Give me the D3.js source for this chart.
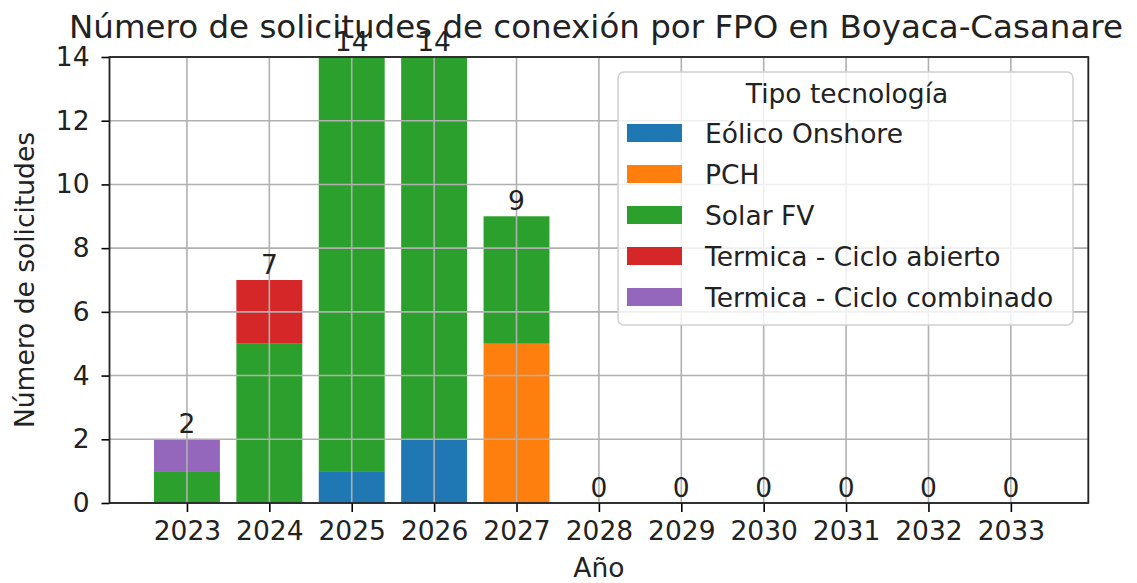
<!DOCTYPE html>
<html>
<head>
<meta charset="utf-8">
<script src="https://cdn.jsdelivr.net/npm/d3@7"></script>
<style>
  body { margin: 0; background: #fff; }
  svg, svg text { font-family: "DejaVu Sans", sans-serif; }
</style>
</head>
<body>
<div id="chart"></div>
<script>
// data
var years = ['2023','2024','2025','2026','2027','2028','2029','2030','2031','2032','2033'];
var techs = ['Eólico Onshore','PCH','Solar FV','Termica - Ciclo abierto','Termica - Ciclo combinado'];
var eolico   = [0,0,1,2,0,0,0,0,0,0,0];
var pch      = [0,0,0,0,5,0,0,0,0,0,0];
var solar    = [1,5,13,12,4,0,0,0,0,0,0];
var abierto  = [0,2,0,0,0,0,0,0,0,0,0];
var combinado= [1,0,0,0,0,0,0,0,0,0,0];
var yTicks = [0,2,4,6,8,10,12,14];
var colors = ['#1f77b4','#ff7f0e','#2ca02c','#d62728','#9467bd'];

var W = 1137, H = 583;
var margin = {top: 57, right: 48.7, bottom: 80, left: 109.5};
var fs = '26.5px';

var svg = d3.select('#chart').append('svg')
    .attr('width', W)
    .attr('height', H);

var x = d3.scaleLinear()
    .domain([-0.94, years.length - 1 + 0.94])
    .range([margin.left, W - margin.right]);
var y = d3.scaleLinear()
    .domain([0, 14])
    .range([H - margin.bottom, margin.top]);

var series = [eolico, pch, solar, abierto, combinado];
var table = years.map(function(yr, i) {
    var row = {year: yr, i: i};
    techs.forEach(function(t, k) { row[t] = series[k][i]; });
    return row;
});
var stacked = d3.stack().keys(techs)(table);

// bars
var step = x(1) - x(0);
var bw = step * 0.8;
svg.append('g').selectAll('g')
    .data(stacked)
    .enter().append('g')
    .attr('fill', function(d, k) { return colors[k]; })
  .selectAll('rect')
    .data(function(d) { return d; })
    .enter().append('rect')
    .attr('x', function(d) { return x(d.data.i) - bw / 2; })
    .attr('width', bw)
    .attr('y', function(d) { return y(d[1]); })
    .attr('height', function(d) { return y(d[0]) - y(d[1]); });

// grid (on top of bars, like matplotlib)
var grid = svg.append('g').attr('stroke', '#b0b0b0').attr('stroke-width', 1.6);
grid.selectAll('.gx').data(years).enter().append('line')
    .attr('x1', function(d, i) { return x(i); })
    .attr('x2', function(d, i) { return x(i); })
    .attr('y1', y(0)).attr('y2', y(14));
grid.selectAll('.gy').data(yTicks).enter().append('line')
    .attr('x1', x.range()[0]).attr('x2', x.range()[1])
    .attr('y1', function(d) { return y(d); })
    .attr('y2', function(d) { return y(d); });

// axes
var xAxis = svg.append('g')
    .attr('transform', 'translate(0,' + y(0) + ')')
    .call(d3.axisBottom(x)
        .tickValues(d3.range(years.length))
        .tickFormat(function(i) { return years[i]; })
        .tickSize(9).tickPadding(9));
var yAxis = svg.append('g')
    .attr('transform', 'translate(' + x.range()[0] + ',0)')
    .call(d3.axisLeft(y).tickValues(yTicks).tickSize(8).tickPadding(12));

[xAxis, yAxis].forEach(function(a) {
    a.attr('font-family', null).attr('font-size', null);
    a.select('.domain').remove();
    a.selectAll('line').attr('stroke', '#000').attr('stroke-width', 1.6);
    a.selectAll('text').attr('fill', '#222').style('font-size', fs);
});

// frame
svg.append('rect')
    .attr('x', x.range()[0]).attr('y', y(14))
    .attr('width', x.range()[1] - x.range()[0])
    .attr('height', y(0) - y(14))
    .attr('fill', 'none').attr('stroke', '#222').attr('stroke-width', 1.8);

// totals
svg.append('g').selectAll('text')
    .data(table)
    .enter().append('text')
    .attr('x', function(d) { return x(d.i); })
    .attr('y', function(d) { return y(d3.sum(techs, function(t) { return d[t]; })) - 6; })
    .attr('text-anchor', 'middle')
    .attr('fill', '#222')
    .style('font-size', fs)
    .text(function(d) { return d3.sum(techs, function(t) { return d[t]; }); });

// legend
var lg = svg.append('g').attr('transform', 'translate(618,72)');
lg.append('rect')
    .attr('width', 455).attr('height', 253)
    .attr('rx', 6)
    .attr('fill', 'rgba(255,255,255,0.8)')
    .attr('stroke', '#d0d0d0').attr('stroke-width', 1.5);
lg.append('text')
    .attr('x', 229).attr('y', 31)
    .attr('text-anchor', 'middle')
    .attr('fill', '#222')
    .style('font-size', fs)
    .text('Tipo tecnología');
var items = lg.selectAll('.item')
    .data(techs)
    .enter().append('g')
    .attr('transform', function(d, k) { return 'translate(0,' + (61 + k * 41) + ')'; });
items.append('rect')
    .attr('x', 9).attr('y', -9)
    .attr('width', 55).attr('height', 18)
    .attr('fill', function(d, k) { return colors[k]; });
items.append('text')
    .attr('x', 87).attr('y', 10)
    .attr('fill', '#222')
    .style('font-size', fs)
    .text(function(d) { return d; });

// titles
svg.append('text')
    .attr('x', 596).attr('y', 38)
    .attr('text-anchor', 'middle')
    .attr('fill', '#222')
    .style('font-size', '32.5px')
    .text('Número de solicitudes de conexión por FPO en Boyaca-Casanare');
svg.append('text')
    .attr('x', (x.range()[0] + x.range()[1]) / 2).attr('y', 577)
    .attr('text-anchor', 'middle')
    .attr('fill', '#222')
    .style('font-size', fs)
    .text('Año');
svg.append('text')
    .attr('transform', 'translate(34,' + (y(7)) + ') rotate(-90)')
    .attr('text-anchor', 'middle')
    .attr('fill', '#222')
    .style('font-size', fs)
    .text('Número de solicitudes');
</script>
</body>
</html>
